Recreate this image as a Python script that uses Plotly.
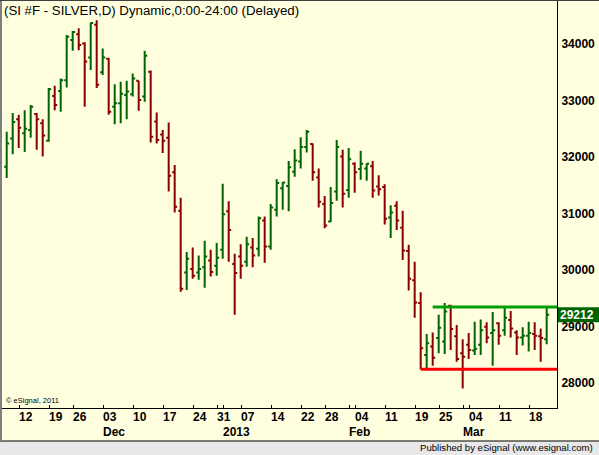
import pandas as pd
import plotly.graph_objects as go

# ---- data -------------------------------------------------------------
holidays = ["2012-11-22", "2012-12-25", "2013-01-01", "2013-01-21", "2013-02-18"]
dates = [d for d in pd.bdate_range("2012-11-07", "2013-03-20")
         if d.strftime("%Y-%m-%d") not in holidays]

opens = [31830, 32330, 32670, 32420, 32480, 32760, 32600, 32290, 33080, 33170,
         33360, 34070, 34170, 34010, 33760, 34340, 33500, 33740, 32890, 32950,
         33100, 33110, 33350, 33070, 33510, 32630, 32400, 32340, 31730, 31050,
         29960, 30020, 29960, 30050, 30170, 30080, 30360, 31040, 30110, 30240,
         30150, 30400, 30380, 30880, 30420, 31070, 31450, 31490, 31740, 31920,
         32180, 32230, 31640, 31170, 30860, 31390, 32010, 31420, 31880, 31790,
         31800, 31840, 31480, 31470, 30930, 31140, 30750, 30340, 29820, 29420,
         28500, 28650, 28800, 28740, 29370, 28830, 28530, 28680, 28580, 28680,
         29000, 28890, 29060, 28940, 29120, 28900, 28810, 28840, 28870, 28830,
         28780]
highs = [32450, 32780, 32750, 32830, 32920, 32780, 32670, 33220, 33260, 33390,
         34160, 34230, 34280, 34030, 34380, 34420, 33920, 33750, 33290, 33330,
         33350, 33480, 33350, 33880, 33530, 32790, 32480, 32610, 31860, 31280,
         30320, 30400, 30260, 30520, 30360, 30480, 31530, 31220, 30290, 30460,
         30590, 30570, 30950, 30950, 31170, 31610, 31560, 31930, 32140, 32350,
         32480, 32240, 31800, 31310, 31470, 32300, 32130, 32160, 31910, 32110,
         31890, 31930, 31680, 31520, 31150, 31220, 31050, 30450, 30150, 29610,
         28870, 28900, 29210, 29420, 29390, 29030, 28780, 28890, 29090, 29130,
         29080, 29260, 29080, 29350, 29280, 28940, 28990, 29090, 29080, 28970,
         29330]
lows = [31630, 32050, 32160, 32090, 32340, 32130, 32010, 32270, 32830, 32800,
        33230, 33880, 33890, 32890, 33540, 33220, 33450, 32750, 32580, 32600,
        32670, 33070, 32820, 32980, 32260, 32240, 32070, 31390, 31020, 29620,
        29650, 29850, 29830, 29690, 29890, 29900, 30200, 30150, 29210, 29850,
        30060, 30050, 30240, 30130, 30360, 30950, 31070, 31040, 31650, 31800,
        32080, 31580, 31110, 30740, 30850, 31230, 31110, 31280, 31370, 31600,
        31580, 31280, 31320, 30810, 30570, 30710, 30180, 29640, 29160, 28250,
        28270, 28310, 28530, 28520, 28590, 28380, 27910, 28430, 28500, 28500,
        28710, 28310, 28680, 28840, 28810, 28500, 28670, 28560, 28590, 28380,
        28690]
closes = [32240, 32620, 32520, 32500, 32890, 32670, 32380, 33200, 32920, 33360,
          34130, 34210, 33980, 33690, 34370, 33280, 33760, 32800, 32950, 33120,
          33160, 33390, 33010, 33790, 32360, 32300, 32290, 31670, 31120, 29670,
          30200, 29900, 30020, 30240, 29970, 30220, 30990, 30710, 29950, 30080,
          30460, 30260, 30920, 30420, 31110, 31540, 31550, 31820, 31940, 32180,
          32450, 31730, 31210, 30790, 31190, 32180, 31350, 31960, 31730, 31880,
          31880, 31410, 31430, 30910, 31020, 30880, 30350, 29850, 29430, 28620,
          28710, 28450, 28980, 29270, 28960, 28430, 28470, 28590, 28610, 28940,
          28810, 28940, 28840, 29160, 28970, 28810, 28840, 28890, 28840, 28800,
          29212]

resistance_level = 29350
resistance_start = "2013-02-21"
support_level = 28250
support_start = "2013-02-19"

price_ticks = [28000, 29000, 30000, 31000, 32000, 33000, 34000]

title_text = "(SI #F - SILVER,D) Dynamic,0:00-24:00 (Delayed)"
footer_text = "Published by eSignal (www.esignal.com)"
copyright_text = "\u00a9 eSignal, 2011"

# ---- styles -----------------------------------------------------------
BG = "#FFFFE0"
UP = "#006400"
DOWN = "#8B0000"
FONT = "Liberation Sans, Arial, sans-serif"

W, H = 599, 455
ML, MR, MT, MB = 2, 42, 1, 47
PW, PH = W - ML - MR, H - MT - MB

xs = list(range(len(dates)))
date_str = [d.strftime("%Y-%m-%d") for d in dates]

fig = go.Figure()
fig.add_trace(go.Ohlc(
    x=xs, open=opens, high=highs, low=lows, close=closes,
    increasing=dict(line=dict(color=UP, width=2)),
    decreasing=dict(line=dict(color=DOWN, width=2)),
    tickwidth=0.42, hoverinfo="skip", showlegend=False,
))

# x-axis labels (first trading day of each week / month)
annotations = []
tick_pos = set()
for i in range(1, len(dates)):
    d, p = dates[i], dates[i - 1]
    if d.isocalendar()[1] != p.isocalendar()[1]:
        annotations.append(dict(x=i, xref="x", y=0, yref="paper", text=d.strftime("%d"),
                                xanchor="left", yanchor="middle", xshift=-5.7, yshift=-8.5,
                                showarrow=False, borderpad=0, borderwidth=0,
                                font=dict(family=FONT, size=12, color="black", weight="bold")))
        tick_pos.add(i)
    if d.month != p.month:
        lbl = str(d.year) if d.month == 1 else d.strftime("%b")
        annotations.append(dict(x=i, xref="x", y=0, yref="paper", text=lbl,
                                xanchor="left", yanchor="middle", xshift=-5.7, yshift=-24,
                                showarrow=False, borderpad=0, borderwidth=0,
                                font=dict(family=FONT, size=12, color="black", weight="bold")))
        tick_pos.add(i)

def py(px):  # paper y from pixel row
    return (H - MB - px) / PH

def pxx(px):  # paper x from pixel column
    return (px - ML) / PW

annotations += [
    dict(x=pxx(2.5), y=py(10), xref="paper", yref="paper", text=title_text,
         xanchor="left", yanchor="middle", showarrow=False, borderpad=0,
         font=dict(family=FONT, size=13.25, color="black")),
    dict(x=pxx(594), y=py(448), xref="paper", yref="paper", text=footer_text,
         xanchor="right", yanchor="middle", showarrow=False, borderpad=0,
         font=dict(family=FONT, size=9.6, color="black")),
    dict(x=pxx(5), y=py(400), xref="paper", yref="paper", text=copyright_text,
         xanchor="left", yanchor="middle", showarrow=False, borderpad=0,
         font=dict(family=FONT, size=7.5, color="black")),
    dict(x=1, xref="paper", y=closes[-1], yref="y", text=str(closes[-1]),
         xanchor="left", yanchor="middle", xshift=2, showarrow=False, borderpad=0,
         font=dict(family=FONT, size=12, color="white", weight="bold")),
]

y_lo, y_hi = 27563, 34760
unit_per_px = (y_hi - y_lo) / PH

shapes = [
    # resistance / support
    dict(type="line", xref="x", yref="y", x0=date_str.index(resistance_start), x1=len(dates) + 5,
         y0=resistance_level, y1=resistance_level, line=dict(color="#00A000", width=3)),
    dict(type="line", xref="x", yref="y", x0=date_str.index(support_start), x1=len(dates) + 5,
         y0=support_level, y1=support_level, line=dict(color="#FF0000", width=3)),
    # last price box
    dict(type="rect", xref="paper", yref="y", x0=1, x1=pxx(W + 2),
         y0=closes[-1] - 7.5 * unit_per_px, y1=closes[-1] + 7.5 * unit_per_px,
         fillcolor=UP, line=dict(width=0), layer="below"),
    # footer band
    dict(type="rect", xref="paper", yref="paper", x0=pxx(-2), x1=pxx(W + 2),
         y0=py(H + 2), y1=py(441), fillcolor="#E8E8E8", line=dict(width=0)),
    dict(type="line", xref="paper", yref="paper", x0=pxx(0), x1=pxx(W + 2),
         y0=py(441), y1=py(441), line=dict(color="black", width=1.2)),
    # window borders
    dict(type="line", xref="paper", yref="paper", x0=pxx(1), x1=pxx(1),
         y0=py(0), y1=py(441), line=dict(color="#808080", width=2)),
    dict(type="line", xref="paper", yref="paper", x0=pxx(0), x1=pxx(W + 2),
         y0=py(0.5), y1=py(0.5), line=dict(color="#404040", width=1)),
]

fig.update_layout(
    width=W, height=H,
    margin=dict(l=ML, r=MR, t=MT, b=MB, pad=0),
    paper_bgcolor=BG, plot_bgcolor=BG,
    showlegend=False,
    annotations=annotations, shapes=shapes,
    xaxis=dict(range=[-0.783, 91.72], showgrid=False, zeroline=False,
               rangeslider=dict(visible=False),
               showline=True, linecolor="black", linewidth=1,
               tickvals=[i - 0.92 for i in sorted(tick_pos)], ticks="inside",
               ticklen=3, tickcolor="black", tickwidth=1, showticklabels=False),
    yaxis=dict(range=[y_lo, y_hi], side="right", showgrid=False, zeroline=False,
               showline=True, linecolor="black", linewidth=1,
               tickvals=price_ticks, ticktext=[str(v) for v in price_ticks],
               ticks="", ticklabelstandoff=1,
               tickfont=dict(family=FONT, size=12, color="black", weight="bold")),
)

fig.write_html("out.html")
